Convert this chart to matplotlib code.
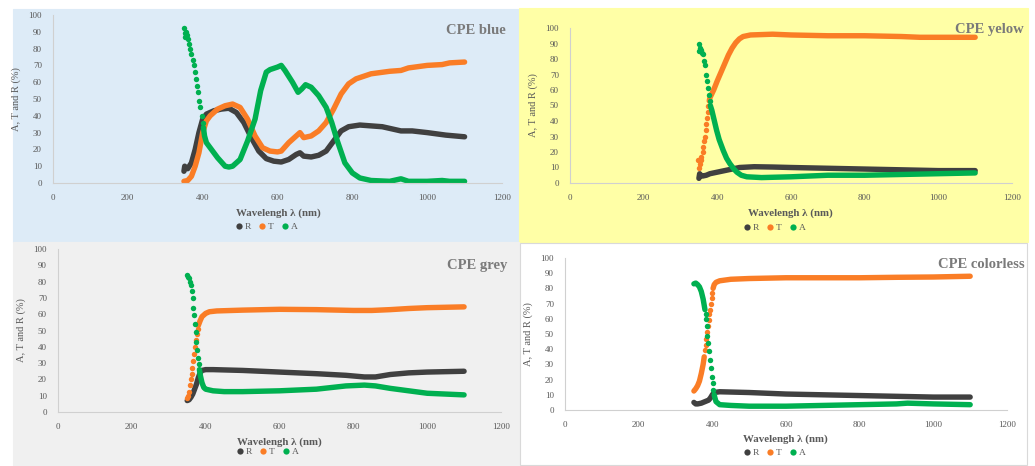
import matplotlib
matplotlib.use("Agg")
import matplotlib.pyplot as plt
from matplotlib.patches import Rectangle
from matplotlib.lines import Line2D

# ---- data (wavelength in nm, values in %) ----
# CPE blue
blue_R_wl = [350, 352, 355, 360, 370, 380, 390, 400, 410, 430, 450, 470, 490, 510, 530, 550, 570, 590, 610,
             630, 650, 660, 670, 690, 710, 730, 750, 770, 790, 820, 850, 880, 910, 930, 960, 1000, 1050, 1100]
blue_R = [7, 10, 9, 8.5, 12, 20, 30, 38, 41, 43, 44, 44.5, 42, 36, 27, 19, 14.5, 13, 12.5,
          14, 17, 18, 16, 15.5, 16.5, 19, 25, 31, 33.5, 34.5, 34, 33.5, 32, 31, 31, 30, 28.5, 27.5]
blue_T_wl = [350, 360, 370, 380, 390, 400, 410, 420, 440, 460, 480, 500, 520, 540, 560, 580, 600, 610, 630,
             650, 660, 670, 690, 710, 730, 750, 770, 790, 810, 850, 900, 930, 950, 1000, 1040, 1060, 1100]
blue_T = [1, 1.5, 4, 10, 18, 30, 37, 40, 44, 46, 47, 45, 38, 28, 21, 19, 18.5, 19, 24,
          28, 30, 27, 28, 31, 36, 44, 53, 59, 62, 65, 66.5, 67, 68.5, 70, 70.5, 71.5, 72]
blue_A_dots_wl = [350, 352, 354, 356, 358, 361, 364, 367, 370, 373, 376, 379, 382, 385, 388, 391, 394, 397, 400]
blue_A_dots = [92, 87, 89, 90, 88, 86, 83, 80, 77, 73, 70, 66, 62, 58, 54, 49, 45, 40, 36]
blue_A_wl = [402, 405, 410, 420, 440, 460, 470, 480, 500, 520, 540, 555, 570, 580, 600, 610, 620, 640, 655,
             665, 675, 690, 710, 730, 745, 760, 780, 800, 820, 850, 900, 930, 950, 1000, 1040, 1060, 1100]
blue_A = [33, 28, 24, 21, 15, 10, 9.5, 10, 14, 25, 38, 55, 66, 67.5, 69, 70, 67, 60, 54,
          56, 58.5, 57, 52, 45, 36, 25, 12, 6, 3, 1.5, 1, 2.5, 1, 1, 1.5, 1, 1]

# CPE yelow
yellow_R_wl = [350, 352, 355, 360, 370, 380, 400, 430, 460, 500, 550, 600, 700, 800, 900, 1000, 1100]
yellow_R = [3, 6, 5, 4.5, 5, 6, 7, 8.5, 10, 10.5, 10.3, 10, 9.5, 9, 8.5, 8, 8]
yellow_T_dots_wl = [348, 350, 353, 355, 357, 360, 362, 364, 366, 368, 370, 372, 374, 376]
yellow_T_dots = [15, 10, 12, 15, 17, 20, 23, 27, 30, 34, 38, 42, 46, 50]
yellow_T_wl = [378, 380, 390, 400, 410, 420, 430, 440, 450, 460, 470, 490, 550, 600, 700, 800, 900, 950, 1000, 1100]
yellow_T = [53, 55, 60, 66, 71.5, 77, 82.5, 87, 90.5, 93, 94.5, 95.5, 96, 95.5, 95, 95, 94.5, 94, 94, 94]
yellow_A_dots_wl = [350, 351, 353, 356, 358, 361, 363, 366, 369, 372, 375, 377, 379]
yellow_A_dots = [90, 85, 87, 86, 84, 83, 79, 76, 70, 66, 61, 57, 53]
yellow_A_wl = [381, 385, 390, 398, 405, 416, 425, 434, 445, 453, 465, 480, 520, 600, 700, 800, 900, 1000, 1100]
yellow_A = [50, 47, 42, 34, 28, 21, 16, 12.5, 9, 7, 5, 4, 3.5, 4, 5, 5, 5.5, 6, 6.5]

# CPE grey
grey_R_wl = [350, 355, 360, 365, 370, 375, 380, 385, 390, 400, 420, 500, 600, 700, 780, 830, 860, 900, 950, 1000, 1100]
grey_R = [7, 7.5, 9, 11, 14, 17, 21, 24, 25.5, 26, 26, 25.5, 24.5, 23.5, 22.5, 21.5, 21.5, 23, 24, 24.5, 25]
grey_T_dots_wl = [350, 352, 355, 358, 360, 362, 364, 366, 368, 371, 373, 376, 378]
grey_T_dots = [8.5, 10, 12.5, 16.5, 20.5, 23.5, 27, 31, 35.5, 40, 44, 48, 51]
grey_T_wl = [380, 385, 390, 400, 410, 430, 500, 600, 700, 800, 850, 900, 950, 1000, 1100]
grey_T = [53, 56, 58.5, 60.5, 61.5, 62, 62.5, 63, 62.8, 62.3, 62.3, 62.8, 63.5, 64, 64.5]
grey_A_dots_wl = [350, 352, 354, 357, 360, 363, 365, 367, 369, 371, 373, 375, 377, 379, 381]
grey_A_dots = [84, 83, 82, 80, 78, 74, 70, 64, 59.5, 54, 49, 43, 38, 33, 29.5]
grey_A_wl = [383, 386, 390, 395, 400, 420, 450, 500, 600, 700, 780, 830, 860, 900, 950, 1000, 1100]
grey_A = [26, 22, 18, 15, 14, 13, 12.5, 12.5, 13, 14, 16, 16.5, 16, 14.5, 13, 11.5, 10.5]

# CPE colorless
clear_R_wl = [350, 355, 360, 370, 380, 390, 395, 400, 405, 420, 500, 600, 700, 800, 900, 1000, 1100]
clear_R = [5, 4, 4, 4.5, 5.5, 6.5, 8, 10, 11.5, 12, 11.5, 10.5, 10, 9.5, 9, 8.5, 8.5]
clear_T_low_wl = [350, 355, 360, 365, 370, 375, 378]
clear_T_low = [12.5, 14, 16, 19, 24, 30, 35]
clear_T_dots_wl = [380, 382, 384, 386, 388, 390, 392, 394, 396, 398, 400]
clear_T_dots = [39.5, 43, 47, 51, 55, 59, 63, 66, 69.5, 73.5, 77]
clear_T_wl = [402, 405, 410, 420, 450, 500, 600, 700, 800, 900, 1000, 1100]
clear_T = [80, 82.5, 84, 85, 86, 86.5, 87, 87, 87, 87.3, 87.5, 88]
clear_A_high_wl = [350, 355, 360, 365, 370, 375, 380]
clear_A_high = [83, 83.5, 82.5, 81, 78, 73, 66]
clear_A_dots_wl = [381.5, 383, 385, 386.5, 389, 391, 394, 396.5, 398, 401, 403]
clear_A_dots = [63, 60, 55, 49, 44, 38.5, 33, 27.5, 22, 17.5, 13]
clear_A_wl = [405, 407, 410, 420, 450, 500, 600, 700, 800, 900, 930, 1000, 1100]
clear_A = [10, 8, 5.5, 3.5, 3, 2.5, 2.5, 3, 3.5, 4, 4.5, 4, 3.5]

x_ticks = [0, 200, 400, 600, 800, 1000, 1200]
y_ticks = [0, 10, 20, 30, 40, 50, 60, 70, 80, 90, 100]

C_R = "#404040"
C_T = "#FA7D26"
C_A = "#00B050"
TXT = "#595959"
SERIF = ["Liberation Serif", "DejaVu Serif"]

W, H = 1035, 466
fig = plt.figure(figsize=(W / 100, H / 100), dpi=100)


def box(x0, y0, x1, y1):
    # pixel box -> figure fraction [left, bottom, width, height]
    return [x0 / W, 1 - y1 / H, (x1 - x0) / W, (y1 - y0) / H]


def curve(ax, wl, vals, color):
    ax.plot(wl, vals, "-", color=color, lw=3.9,
            solid_capstyle="round", solid_joinstyle="round", clip_on=False)


def dots(ax, wl, vals, color):
    ax.plot(wl, vals, "o", color=color, ms=3.9, mew=0, clip_on=False)


def panel(bg, axbox, face, title, title_xy, xlabel_xy, legend_xy, edge=None):
    r = box(*bg)
    fig.patches.append(Rectangle((r[0], r[1]), r[2], r[3], transform=fig.transFigure,
                                 facecolor=face, edgecolor=edge or face, lw=0.8, zorder=-10))
    ax = fig.add_axes(box(*axbox))
    ax.set_facecolor("none")
    ax.set_xlim(0, 1200)
    ax.set_ylim(0, 100)
    ax.set_xticks(x_ticks)
    ax.set_yticks(y_ticks)
    ax.tick_params(length=0, labelsize=6.5, labelcolor=TXT, pad=8)
    for lab in ax.get_xticklabels() + ax.get_yticklabels():
        lab.set_family(SERIF)
    for s in ["top", "right"]:
        ax.spines[s].set_visible(False)
    for s in ["left", "bottom"]:
        ax.spines[s].set_color("#D0D0D0")
        ax.spines[s].set_linewidth(0.8)
    ax.set_ylabel("A, T and R (%)", fontsize=7.5, color=TXT, family=SERIF, labelpad=5)
    fig.text(title_xy[0] / W, 1 - title_xy[1] / H, title, ha="right", va="center",
             fontsize=10.5, fontweight="bold", color="#7A7A7A", family=SERIF)
    fig.text(xlabel_xy[0] / W, 1 - xlabel_xy[1] / H, "Wavelengh \u03bb (nm)", ha="center", va="center",
             fontsize=7.8, fontweight="bold", color=TXT, family=SERIF)
    handles = [Line2D([], [], ls="", marker="o", ms=4.5, mew=0, color=c) for c in (C_R, C_T, C_A)]
    leg = ax.legend(handles, ["R", "T", "A"], ncol=3, loc="center",
                    bbox_to_anchor=(legend_xy[0] / W, 1 - legend_xy[1] / H),
                    bbox_transform=fig.transFigure, frameon=False, fontsize=6.8,
                    handlelength=0.6, handletextpad=0.3, columnspacing=0.9)
    for t in leg.get_texts():
        t.set_color(TXT)
        t.set_family(SERIF)
    return ax


ax = panel((13, 9, 519, 242), (53, 15, 502, 183), "#DDEBF7", "CPE blue", (506, 31), (278, 213), (267, 227))
curve(ax, blue_R_wl, blue_R, C_R)
curve(ax, blue_T_wl, blue_T, C_T)
dots(ax, blue_A_dots_wl, blue_A_dots, C_A)
curve(ax, blue_A_wl, blue_A, C_A)

ax = panel((519, 8, 1028, 242), (570, 28, 1012, 183), "#FFFFA6", "CPE yelow", (1024, 29), (790, 213), (775, 228))
curve(ax, yellow_R_wl, yellow_R, C_R)
dots(ax, yellow_T_dots_wl, yellow_T_dots, C_T)
curve(ax, yellow_T_wl, yellow_T, C_T)
dots(ax, yellow_A_dots_wl, yellow_A_dots, C_A)
curve(ax, yellow_A_wl, yellow_A, C_A)

ax = panel((13, 242, 519, 466), (58, 249, 501, 412), "#F0F0F0", "CPE grey", (507, 265), (279, 442), (268, 452))
curve(ax, grey_R_wl, grey_R, C_R)
dots(ax, grey_T_dots_wl, grey_T_dots, C_T)
curve(ax, grey_T_wl, grey_T, C_T)
dots(ax, grey_A_dots_wl, grey_A_dots, C_A)
curve(ax, grey_A_wl, grey_A, C_A)

ax = panel((520, 243, 1027, 465), (565, 258, 1007, 410), "white", "CPE colorless", (1025, 265), (785, 439),
           (775, 453), edge="#D9D9D9")
curve(ax, clear_R_wl, clear_R, C_R)
curve(ax, clear_T_low_wl, clear_T_low, C_T)
dots(ax, clear_T_dots_wl, clear_T_dots, C_T)
curve(ax, clear_T_wl, clear_T, C_T)
curve(ax, clear_A_high_wl, clear_A_high, C_A)
dots(ax, clear_A_dots_wl, clear_A_dots, C_A)
curve(ax, clear_A_wl, clear_A, C_A)

fig.savefig("out.png", dpi=100)
